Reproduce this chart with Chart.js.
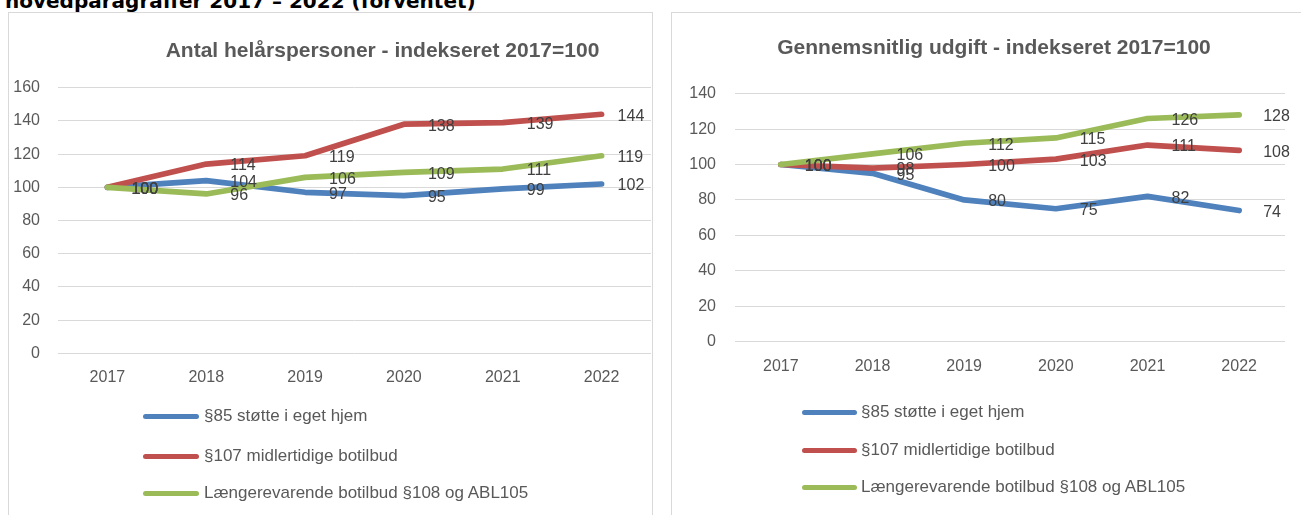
<!DOCTYPE html>
<html>
<head>
<meta charset="utf-8">
<script src="https://cdn.jsdelivr.net/npm/chart.js@4.4.1/dist/chart.umd.min.js"></script>
<style>
  html, body { margin: 0; padding: 0; background: #fff; }
  body { width: 1301px; height: 515px; position: relative; overflow: hidden; }
  #heading { position: absolute; left: 5px; top: -9px; font: bold 20px "DejaVu Sans", sans-serif; line-height: 20px; color: #000; white-space: nowrap; }
  .box { position: absolute; top: 12px; height: 520px; border: 1px solid #d9d9d9; box-sizing: border-box; }
  canvas { position: absolute; }
  .leg { position: absolute; height: 20px; line-height: 20px; font: 17px "Liberation Sans", Arial, sans-serif; color: #595959; white-space: nowrap; }
  .legline { position: absolute; height: 5px; border-radius: 3px; }
</style>
</head>
<body>
<div id="heading">hovedparagraffer 2017 – 2022 (forventet)</div>
<div class="box" style="left:8px; width:645px;"></div>
<div class="box" style="left:671px; width:660px;"></div>
<canvas id="c1" width="643" height="501" style="left:9px; top:14px;"></canvas>
<canvas id="c2" width="623" height="504" style="left:672px; top:11px;"></canvas>
<div id="legends"></div>
<script>
// ---- data ----
const years = ['2017', '2018', '2019', '2020', '2021', '2022'];
const seriesNames = ['§85 støtte i eget hjem', '§107 midlertidige botilbud', 'Længerevarende botilbud §108 og ABL105'];
const seriesColors = ['#4F81BD', '#C0504D', '#9BBB59'];

const titleLeft = 'Antal helårspersoner - indekseret 2017=100';
const personsP85 = [100, 104, 97, 95, 99, 102];
const personsP107 = [100, 114, 119, 138, 139, 144];
const personsP108 = [100, 96, 106, 109, 111, 119];

const titleRight = 'Gennemsnitlig udgift - indekseret 2017=100';
const costP85 = [100, 95, 80, 75, 82, 74];
const costP107 = [100, 98, 100, 103, 111, 108];
const costP108 = [100, 106, 112, 115, 126, 128];

// ---- plugins ----
const dataLabels = {
  id: 'dataLabels',
  afterDatasetsDraw(chart, args, o) {
    const ctx = chart.ctx;
    ctx.save();
    ctx.font = o.font;
    ctx.fillStyle = o.color;
    ctx.textAlign = 'left';
    ctx.textBaseline = 'middle';
    chart.data.datasets.forEach((ds, i) => {
      const meta = chart.getDatasetMeta(i);
      meta.data.forEach((pt, j) => {
        const dx = j === meta.data.length - 1 ? o.lastDx : o.dx;
        ctx.fillText(String(ds.data[j]), pt.x + dx, pt.y + o.dy);
      });
    });
    ctx.restore();
  }
};
const fixedTitle = {
  id: 'fixedTitle',
  afterDraw(chart, args, o) {
    const ctx = chart.ctx;
    ctx.save();
    ctx.font = o.font;
    ctx.fillStyle = o.color;
    ctx.textAlign = 'center';
    ctx.textBaseline = 'alphabetic';
    ctx.fillText(o.text, o.x, o.y);
    ctx.restore();
  }
};

function makeChart(id, title, values, cfg) {
  const datasets = values.map((v, i) => ({
    label: seriesNames[i],
    data: v,
    borderColor: seriesColors[i],
    backgroundColor: seriesColors[i],
    borderWidth: 5.7,
    pointRadius: 0,
    tension: 0,
    borderCapStyle: 'round',
    borderJoinStyle: 'round',
    order: values.length - i
  }));
  return new Chart(document.getElementById(id), {
    type: 'line',
    data: { labels: years, datasets },
    plugins: [dataLabels, fixedTitle],
    options: {
      responsive: false,
      animation: false,
      devicePixelRatio: 1,
      layout: { padding: cfg.padding },
      plugins: {
        legend: { display: false },
        tooltip: { enabled: false },
        title: { display: false },
        dataLabels: { font: '16px "Liberation Sans", Arial, sans-serif', color: '#404040', dx: 24, lastDx: cfg.lastDx, dy: 2 },
        fixedTitle: { text: title, x: cfg.titleX, y: cfg.titleY, font: 'bold 21px "Liberation Sans", Arial, sans-serif', color: '#595959' }
      },
      scales: {
        x: {
          offset: true,
          grid: { display: false, drawTicks: false },
          border: { display: false },
          ticks: { color: '#595959', font: { family: '"Liberation Sans", Arial, sans-serif', size: 16 }, padding: 15, maxRotation: 0 },
          afterFit(s) { s.height = 40; }
        },
        y: {
          min: 0, max: cfg.yMax,
          grid: { color: '#d9d9d9', lineWidth: 1, drawTicks: false },
          border: { display: false },
          ticks: { stepSize: 20, color: '#595959', font: { family: '"Liberation Sans", Arial, sans-serif', size: 16 }, padding: cfg.yPad },
          afterFit(s) { s.width = cfg.yWidth; }
        }
      }
    }
  });
}

const left = makeChart('c1', titleLeft, [personsP85, personsP107, personsP108], {
  padding: { left: 0, right: 1, top: 73.7, bottom: 121.7 },
  yMax: 160, yWidth: 49, yPad: 18, lastDx: 16, titleX: 373.5, titleY: 42.7
});
const right = makeChart('c2', titleRight, [costP85, costP107, costP108], {
  padding: { left: 0, right: 10, top: 82.7, bottom: 133.5 },
  yMax: 140, yWidth: 63, yPad: 19, lastDx: 24, titleX: 322, titleY: 43.3
});

// ---- legends (built from the chart datasets) ----
function buildLegend(chart, lineX, lineW, textX, ys) {
  const host = document.getElementById('legends');
  chart.data.datasets.forEach((ds, i) => {
    const l = document.createElement('div');
    l.className = 'legline';
    l.style.left = lineX + 'px';
    l.style.width = lineW + 'px';
    l.style.top = (ys[i] - 2.5) + 'px';
    l.style.background = ds.borderColor;
    host.appendChild(l);
    const t = document.createElement('div');
    t.className = 'leg';
    t.style.left = textX + 'px';
    t.style.top = (ys[i] - 10) + 'px';
    t.textContent = ds.label;
    host.appendChild(t);
  });
}
buildLegend(left, 143, 56, 204, [416, 456, 493]);
buildLegend(right, 802, 55, 861, [412, 450, 487]);
</script>
</body>
</html>
